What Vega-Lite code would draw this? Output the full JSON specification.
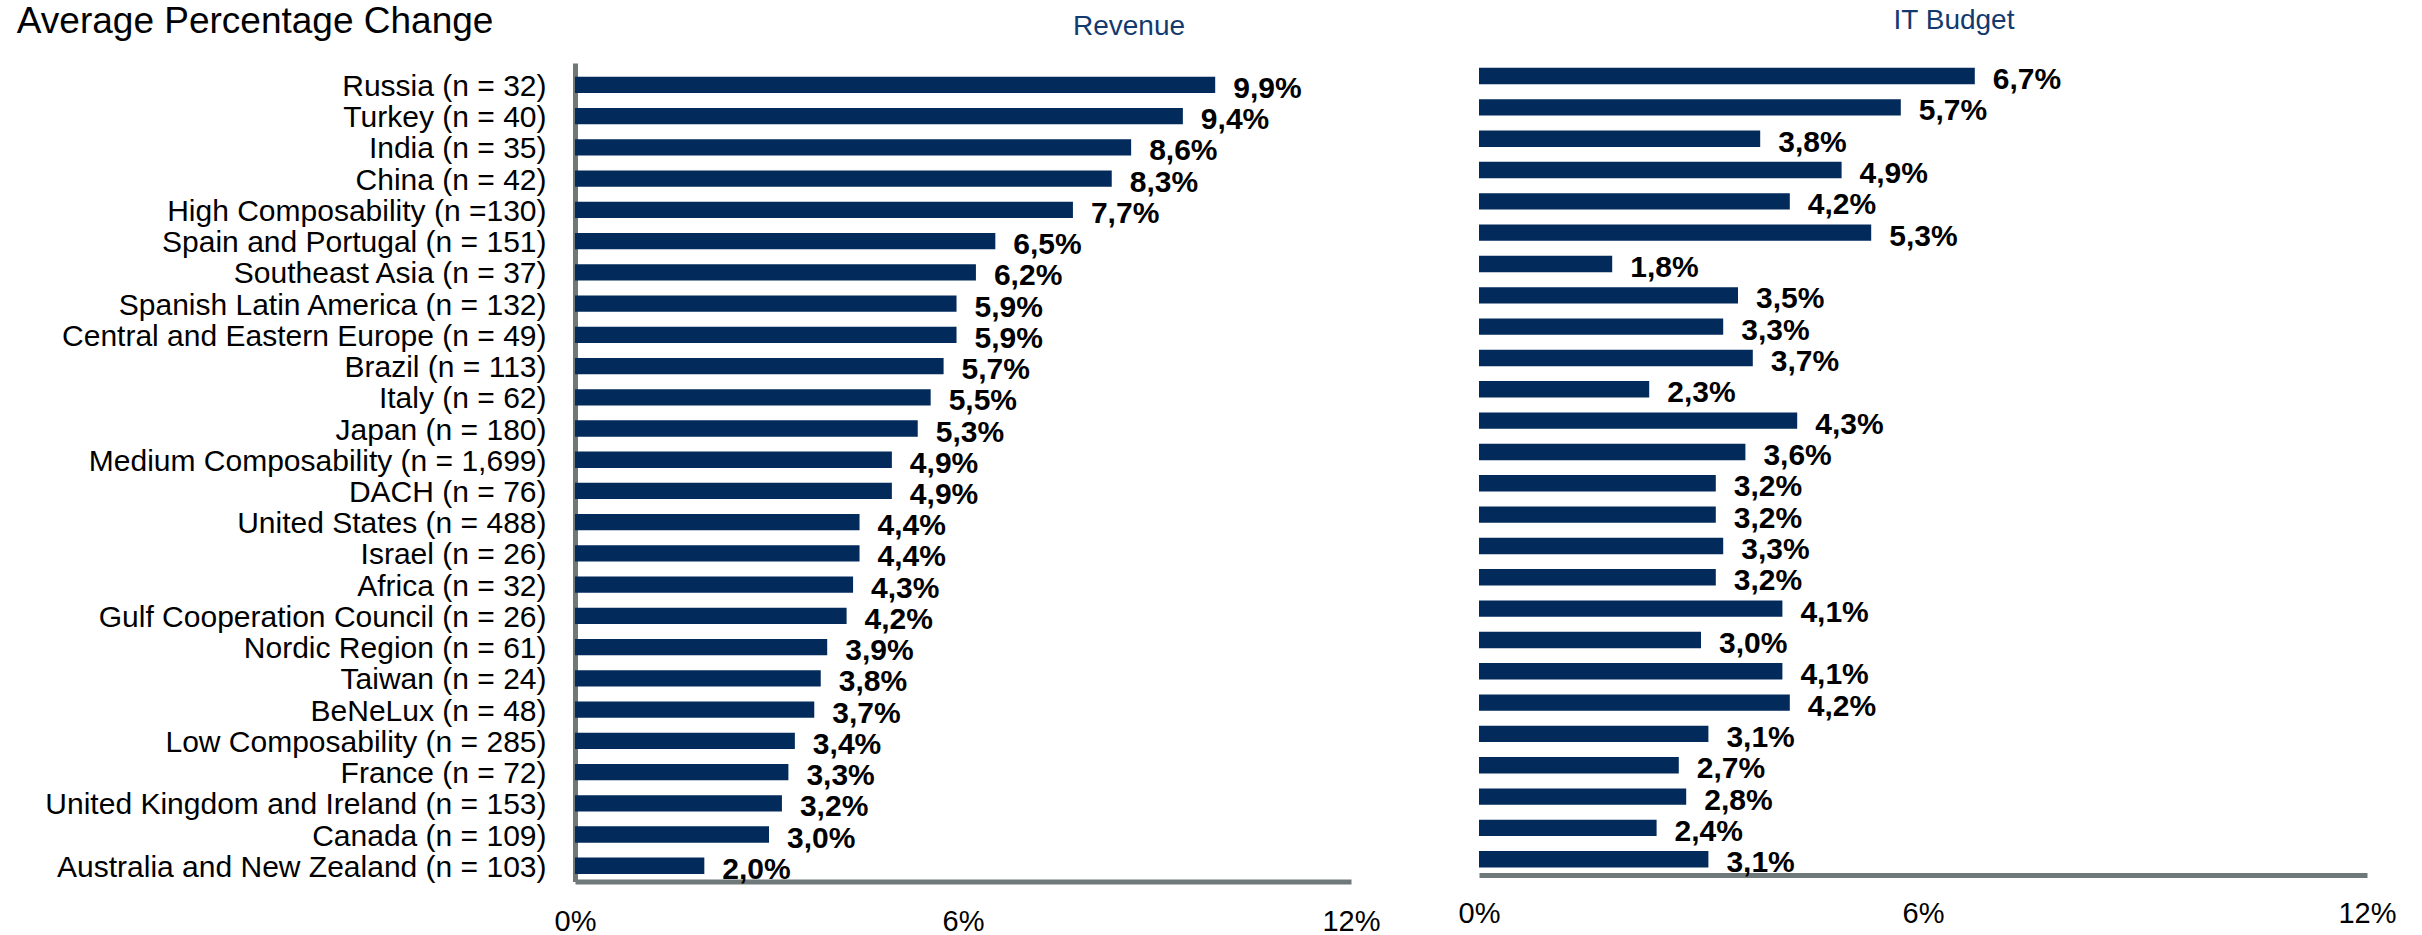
{
  "$schema": "https://vega.github.io/schema/vega-lite/v6.json",
  "padding": {"left": 16, "top": 3, "right": 0, "bottom": 0},
  "background": "white",
  "title": {"text": "Average Percentage Change", "anchor": "start", "fontSize": 37, "fontWeight": "normal", "color": "black", "font": "Liberation Sans", "baseline": "alphabetic", "offset": -63.3, "dx": -28},
  "data": {"values": [
    {"label": "Russia (n = 32)", "revenue": 0.099, "itbudget": 0.067},
    {"label": "Turkey (n = 40)", "revenue": 0.094, "itbudget": 0.057},
    {"label": "India (n = 35)", "revenue": 0.086, "itbudget": 0.038},
    {"label": "China (n = 42)", "revenue": 0.083, "itbudget": 0.049},
    {"label": "High Composability (n =130)", "revenue": 0.077, "itbudget": 0.042},
    {"label": "Spain and Portugal (n = 151)", "revenue": 0.065, "itbudget": 0.053},
    {"label": "Southeast Asia (n = 37)", "revenue": 0.062, "itbudget": 0.018},
    {"label": "Spanish Latin America (n = 132)", "revenue": 0.059, "itbudget": 0.035},
    {"label": "Central and Eastern Europe (n = 49)", "revenue": 0.059, "itbudget": 0.033},
    {"label": "Brazil (n = 113)", "revenue": 0.057, "itbudget": 0.037},
    {"label": "Italy (n = 62)", "revenue": 0.055, "itbudget": 0.023},
    {"label": "Japan (n = 180)", "revenue": 0.053, "itbudget": 0.043},
    {"label": "Medium Composability (n = 1,699)", "revenue": 0.049, "itbudget": 0.036},
    {"label": "DACH (n = 76)", "revenue": 0.049, "itbudget": 0.032},
    {"label": "United States (n = 488)", "revenue": 0.044, "itbudget": 0.032},
    {"label": "Israel (n = 26)", "revenue": 0.044, "itbudget": 0.033},
    {"label": "Africa (n = 32)", "revenue": 0.043, "itbudget": 0.032},
    {"label": "Gulf Cooperation Council (n = 26)", "revenue": 0.042, "itbudget": 0.041},
    {"label": "Nordic Region (n = 61)", "revenue": 0.039, "itbudget": 0.030},
    {"label": "Taiwan (n = 24)", "revenue": 0.038, "itbudget": 0.041},
    {"label": "BeNeLux (n = 48)", "revenue": 0.037, "itbudget": 0.042},
    {"label": "Low Composability (n = 285)", "revenue": 0.034, "itbudget": 0.031},
    {"label": "France (n = 72)", "revenue": 0.033, "itbudget": 0.027},
    {"label": "United Kingdom and Ireland (n = 153)", "revenue": 0.032, "itbudget": 0.028},
    {"label": "Canada (n = 109)", "revenue": 0.030, "itbudget": 0.024},
    {"label": "Australia and New Zealand (n = 103)", "revenue": 0.020, "itbudget": 0.031}
  ]},
  "spacing": 77,
  "hconcat": [
    {
      "width": 776,
      "height": 818.5,
      "title": {"text": "Revenue", "fontSize": 28, "fontWeight": "normal", "color": "#123a6e", "anchor": "middle", "frame": "group", "dx": 166, "baseline": "alphabetic", "offset": 0},
      "encoding": {
        "y": {"field": "label", "type": "nominal", "sort": null,
          "scale": {"paddingInner": 0.478, "paddingOuter": 0.343, "align": 0.645},
          "axis": {"title": null, "labelFontSize": 30, "labelPadding": 29, "labelOffset": 2, "labelLimit": 0, "labelAlign": "right", "labelBaseline": "middle"}},
        "x": {"field": "revenue", "type": "quantitative",
          "scale": {"domain": [0, 0.12], "nice": false, "zero": true},
          "axis": {"title": null, "values": [0, 0.06, 0.12], "format": ".0%", "labelFontSize": 29, "labelPadding": 26, "labelFlush": false, "labelOverlap": false}}
      },
      "layer": [
        {"mark": {"type": "bar", "color": "#022a5b"}},
        {"mark": {"type": "text", "align": "left", "baseline": "middle", "dx": 18, "dy": 4, "fontSize": 30, "fontWeight": "bold", "color": "black"},
         "encoding": {"text": {"field": "revenue", "type": "quantitative", "format": ".1%"}}}
      ]
    },
    {
      "width": 888,
      "height": 812,
      "title": {"text": "IT Budget", "fontSize": 28, "fontWeight": "normal", "color": "#123a6e", "anchor": "middle", "frame": "group", "dx": 31, "baseline": "alphabetic", "offset": 6.3},
      "encoding": {
        "y": {"field": "label", "type": "nominal", "sort": null,
          "scale": {"paddingInner": 0.477, "paddingOuter": 0.198, "align": 0.39},
          "axis": null},
        "x": {"field": "itbudget", "type": "quantitative",
          "scale": {"domain": [0, 0.12], "nice": false, "zero": true},
          "axis": {"title": null, "values": [0, 0.06, 0.12], "format": ".0%", "labelFontSize": 29, "labelPadding": 24, "labelFlush": false, "labelOverlap": false}}
      },
      "layer": [
        {"mark": {"type": "bar", "color": "#022a5b"}},
        {"mark": {"type": "text", "align": "left", "baseline": "middle", "dx": 18, "dy": 4, "fontSize": 30, "fontWeight": "bold", "color": "black"},
         "encoding": {"text": {"field": "itbudget", "type": "quantitative", "format": ".1%"}}}
      ]
    }
  ],
  "resolve": {"scale": {"x": "independent", "y": "independent"}},
  "config": {
    "font": "Liberation Sans",
    "view": {"stroke": null},
    "locale": {"number": {"decimal": ",", "thousands": ".", "grouping": [3], "currency": ["", " €"]}},
    "axis": {"grid": false, "ticks": false, "tickSize": 0, "domainColor": "#6f7979", "domainWidth": 5, "labelColor": "black", "labelFont": "Liberation Sans", "zindex": 1}
  }
}
